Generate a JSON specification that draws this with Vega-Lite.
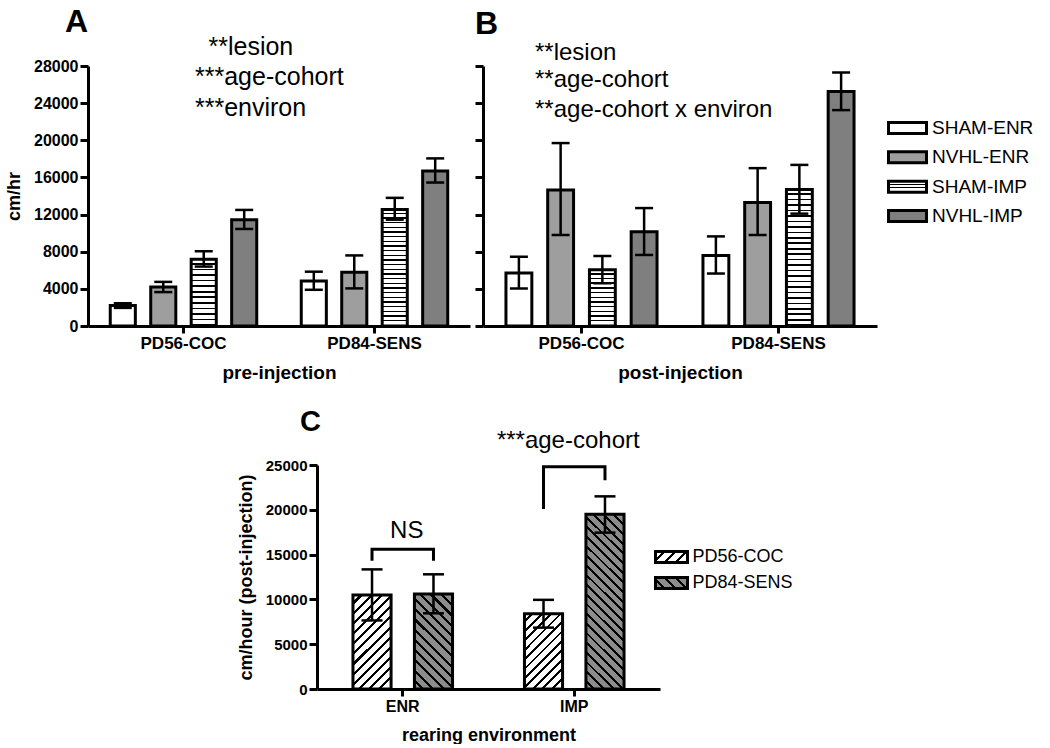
{
"$schema": "https://vega.github.io/schema/vega-lite/v6.json",
"padding": {"left": 5, "top": 5, "right": 0, "bottom": 0},
"config": {
  "view": {"stroke": null},
  "font": "Liberation Sans",
  "axis": {"domainColor": "black", "domainWidth": 3, "tickColor": "black", "tickWidth": 3, "labelColor": "black", "titleColor": "black", "labelFontWeight": "bold", "titleFontWeight": "bold", "grid": false, "labelFont": "Liberation Sans", "titleFont": "Liberation Sans", "labelOverlap": false},
  "axisY": {"tickSize": 8, "labelPadding": 2, "titlePadding": 10},
  "axisX": {"tickSize": 7, "labelPadding": 2, "titlePadding": 12, "labelAngle": 0, "bandPosition": 0.5},
  "title": {"font": "Liberation Sans", "color": "black"},
  "text": {"font": "Liberation Sans", "color": "black"}
},
"spacing": 25,
"center": true,
"resolve": {"scale": {"xOffset": "independent", "x": "independent", "y": "independent"}},
"vconcat": [
{"bounds": "flush", "spacing": 13, "resolve": {"scale": {"xOffset": "independent", "x": "independent", "y": "independent"}}, "hconcat": [
 {
  "width": 382, "height": 260,
  "title": {"text": "A", "anchor": "start", "frame": "group", "dx": -23, "fontSize": 32, "fontWeight": "bold", "baseline": "alphabetic", "offset": -29},
  "data": {"values": [
   {"cohort": "PD56-COC", "group": "SHAM-ENR", "mean": 2200, "lo": 1950, "hi": 2450},
   {"cohort": "PD56-COC", "group": "NVHL-ENR", "mean": 4200, "lo": 3650, "hi": 4750},
   {"cohort": "PD56-COC", "group": "SHAM-IMP", "mean": 7200, "lo": 6400, "hi": 8050},
   {"cohort": "PD56-COC", "group": "NVHL-IMP", "mean": 11450, "lo": 10450, "hi": 12500},
   {"cohort": "PD84-SENS", "group": "SHAM-ENR", "mean": 4850, "lo": 3900, "hi": 5850},
   {"cohort": "PD84-SENS", "group": "NVHL-ENR", "mean": 5800, "lo": 4050, "hi": 7600},
   {"cohort": "PD84-SENS", "group": "SHAM-IMP", "mean": 12550, "lo": 11450, "hi": 13800},
   {"cohort": "PD84-SENS", "group": "NVHL-IMP", "mean": 16700, "lo": 15450, "hi": 18050}
  ]},
  "encoding": {
   "x": {"field": "cohort", "type": "nominal", "scale": {"type": "band", "domain": ["PD56-COC", "PD84-SENS"], "paddingInner": 0, "paddingOuter": 0}, "title": "pre-injection", "axis": {"labelFontSize": 17, "titleFontSize": 19}}
  },
  "layer": [
   {"mark": {"type": "bar", "stroke": "black", "strokeWidth": 3, "opacity": 1},
    "encoding": {
     "xOffset": {"field": "group", "type": "nominal", "scale": {"type": "band", "domain": ["SHAM-ENR", "NVHL-ENR", "SHAM-IMP", "NVHL-IMP"], "range": [0, 191], "paddingInner": 0.38, "paddingOuter": 0.55}},
     "y": {"field": "mean", "type": "quantitative", "scale": {"domain": [0, 28000], "nice": false}, "title": "cm/hr", "axis": {"values": [0, 4000, 8000, 12000, 16000, 20000, 24000, 28000], "format": "d", "labelFontSize": 16, "titleFontSize": 18}},
     "fill": {"condition": [
       {"test": "datum.group === 'SHAM-ENR'", "value": "#ffffff"},
       {"test": "datum.group === 'NVHL-ENR'", "value": "#9e9e9e"},
       {"test": "datum.group === 'NVHL-IMP'", "value": "#7f7f7f"},
       {"test": "datum.mean < 9000", "value": {"gradient": "linear", "x1": 0, "y1": 0, "x2": 0, "y2": 1, "stops": [{"offset":0,"color":"#fff"},{"offset":0.0583,"color":"#fff"},{"offset":0.0583,"color":"#000"},{"offset":0.0833,"color":"#000"},{"offset":0.0833,"color":"#fff"},{"offset":0.1417,"color":"#fff"},{"offset":0.1417,"color":"#000"},{"offset":0.1667,"color":"#000"},{"offset":0.1667,"color":"#fff"},{"offset":0.225,"color":"#fff"},{"offset":0.225,"color":"#000"},{"offset":0.25,"color":"#000"},{"offset":0.25,"color":"#fff"},{"offset":0.3083,"color":"#fff"},{"offset":0.3083,"color":"#000"},{"offset":0.3333,"color":"#000"},{"offset":0.3333,"color":"#fff"},{"offset":0.3917,"color":"#fff"},{"offset":0.3917,"color":"#000"},{"offset":0.4167,"color":"#000"},{"offset":0.4167,"color":"#fff"},{"offset":0.475,"color":"#fff"},{"offset":0.475,"color":"#000"},{"offset":0.5,"color":"#000"},{"offset":0.5,"color":"#fff"},{"offset":0.5583,"color":"#fff"},{"offset":0.5583,"color":"#000"},{"offset":0.5833,"color":"#000"},{"offset":0.5833,"color":"#fff"},{"offset":0.6417,"color":"#fff"},{"offset":0.6417,"color":"#000"},{"offset":0.6667,"color":"#000"},{"offset":0.6667,"color":"#fff"},{"offset":0.725,"color":"#fff"},{"offset":0.725,"color":"#000"},{"offset":0.75,"color":"#000"},{"offset":0.75,"color":"#fff"},{"offset":0.8083,"color":"#fff"},{"offset":0.8083,"color":"#000"},{"offset":0.8333,"color":"#000"},{"offset":0.8333,"color":"#fff"},{"offset":0.8917,"color":"#fff"},{"offset":0.8917,"color":"#000"},{"offset":0.9167,"color":"#000"},{"offset":0.9167,"color":"#fff"},{"offset":0.975,"color":"#fff"},{"offset":0.975,"color":"#000"},{"offset":1,"color":"#000"}]}}
      ],
      "value": {"gradient": "linear", "x1": 0, "y1": 0, "x2": 0, "y2": 1, "stops": [{"offset":0,"color":"#fff"},{"offset":0.028,"color":"#fff"},{"offset":0.028,"color":"#000"},{"offset":0.04,"color":"#000"},{"offset":0.04,"color":"#fff"},{"offset":0.068,"color":"#fff"},{"offset":0.068,"color":"#000"},{"offset":0.08,"color":"#000"},{"offset":0.08,"color":"#fff"},{"offset":0.108,"color":"#fff"},{"offset":0.108,"color":"#000"},{"offset":0.12,"color":"#000"},{"offset":0.12,"color":"#fff"},{"offset":0.148,"color":"#fff"},{"offset":0.148,"color":"#000"},{"offset":0.16,"color":"#000"},{"offset":0.16,"color":"#fff"},{"offset":0.188,"color":"#fff"},{"offset":0.188,"color":"#000"},{"offset":0.2,"color":"#000"},{"offset":0.2,"color":"#fff"},{"offset":0.228,"color":"#fff"},{"offset":0.228,"color":"#000"},{"offset":0.24,"color":"#000"},{"offset":0.24,"color":"#fff"},{"offset":0.268,"color":"#fff"},{"offset":0.268,"color":"#000"},{"offset":0.28,"color":"#000"},{"offset":0.28,"color":"#fff"},{"offset":0.308,"color":"#fff"},{"offset":0.308,"color":"#000"},{"offset":0.32,"color":"#000"},{"offset":0.32,"color":"#fff"},{"offset":0.348,"color":"#fff"},{"offset":0.348,"color":"#000"},{"offset":0.36,"color":"#000"},{"offset":0.36,"color":"#fff"},{"offset":0.388,"color":"#fff"},{"offset":0.388,"color":"#000"},{"offset":0.4,"color":"#000"},{"offset":0.4,"color":"#fff"},{"offset":0.428,"color":"#fff"},{"offset":0.428,"color":"#000"},{"offset":0.44,"color":"#000"},{"offset":0.44,"color":"#fff"},{"offset":0.468,"color":"#fff"},{"offset":0.468,"color":"#000"},{"offset":0.48,"color":"#000"},{"offset":0.48,"color":"#fff"},{"offset":0.508,"color":"#fff"},{"offset":0.508,"color":"#000"},{"offset":0.52,"color":"#000"},{"offset":0.52,"color":"#fff"},{"offset":0.548,"color":"#fff"},{"offset":0.548,"color":"#000"},{"offset":0.56,"color":"#000"},{"offset":0.56,"color":"#fff"},{"offset":0.588,"color":"#fff"},{"offset":0.588,"color":"#000"},{"offset":0.6,"color":"#000"},{"offset":0.6,"color":"#fff"},{"offset":0.628,"color":"#fff"},{"offset":0.628,"color":"#000"},{"offset":0.64,"color":"#000"},{"offset":0.64,"color":"#fff"},{"offset":0.668,"color":"#fff"},{"offset":0.668,"color":"#000"},{"offset":0.68,"color":"#000"},{"offset":0.68,"color":"#fff"},{"offset":0.708,"color":"#fff"},{"offset":0.708,"color":"#000"},{"offset":0.72,"color":"#000"},{"offset":0.72,"color":"#fff"},{"offset":0.748,"color":"#fff"},{"offset":0.748,"color":"#000"},{"offset":0.76,"color":"#000"},{"offset":0.76,"color":"#fff"},{"offset":0.788,"color":"#fff"},{"offset":0.788,"color":"#000"},{"offset":0.8,"color":"#000"},{"offset":0.8,"color":"#fff"},{"offset":0.828,"color":"#fff"},{"offset":0.828,"color":"#000"},{"offset":0.84,"color":"#000"},{"offset":0.84,"color":"#fff"},{"offset":0.868,"color":"#fff"},{"offset":0.868,"color":"#000"},{"offset":0.88,"color":"#000"},{"offset":0.88,"color":"#fff"},{"offset":0.908,"color":"#fff"},{"offset":0.908,"color":"#000"},{"offset":0.92,"color":"#000"},{"offset":0.92,"color":"#fff"},{"offset":0.948,"color":"#fff"},{"offset":0.948,"color":"#000"},{"offset":0.96,"color":"#000"},{"offset":0.96,"color":"#fff"},{"offset":0.988,"color":"#fff"},{"offset":0.988,"color":"#000"},{"offset":1,"color":"#000"}]}
     }
    }
   },
   {"mark": {"type": "rule", "color": "black", "strokeWidth": 2.5},
    "encoding": {
     "xOffset": {"field": "group", "type": "nominal", "scale": {"type": "band", "domain": ["SHAM-ENR", "NVHL-ENR", "SHAM-IMP", "NVHL-IMP"], "range": [0, 191], "paddingInner": 0.38, "paddingOuter": 0.55}},
     "y": {"field": "lo", "type": "quantitative", "title": "cm/hr", "axis": {"values": [0, 4000, 8000, 12000, 16000, 20000, 24000, 28000], "format": "d", "labelFontSize": 16, "titleFontSize": 18}},
     "y2": {"field": "hi"}
    }
   },
   {"mark": {"type": "tick", "color": "black", "thickness": 2.5, "size": 18, "opacity": 1},
    "encoding": {
     "xOffset": {"field": "group", "type": "nominal", "scale": {"type": "band", "domain": ["SHAM-ENR", "NVHL-ENR", "SHAM-IMP", "NVHL-IMP"], "range": [0, 191], "paddingInner": 0.38, "paddingOuter": 0.55}},
     "y": {"field": "hi", "type": "quantitative", "title": "cm/hr", "axis": {"values": [0, 4000, 8000, 12000, 16000, 20000, 24000, 28000], "format": "d", "labelFontSize": 16, "titleFontSize": 18}}
    }
   },
   {"mark": {"type": "tick", "color": "black", "thickness": 2.5, "size": 18, "opacity": 1},
    "encoding": {
     "xOffset": {"field": "group", "type": "nominal", "scale": {"type": "band", "domain": ["SHAM-ENR", "NVHL-ENR", "SHAM-IMP", "NVHL-IMP"], "range": [0, 191], "paddingInner": 0.38, "paddingOuter": 0.55}},
     "y": {"field": "lo", "type": "quantitative", "title": "cm/hr", "axis": {"values": [0, 4000, 8000, 12000, 16000, 20000, 24000, 28000], "format": "d", "labelFontSize": 16, "titleFontSize": 18}}
    }
   },
   {"data": {"values": [
     {"cohort": "PD56-COC", "t": "**lesion", "v": 29200}
    ]},
    "mark": {"type": "text", "align": "left", "baseline": "alphabetic", "dx": 25, "fontSize": 25, "color": "black"},
    "encoding": {
     "y": {"field": "v", "type": "quantitative", "title": "cm/hr", "axis": {"values": [0, 4000, 8000, 12000, 16000, 20000, 24000, 28000], "format": "d", "labelFontSize": 16, "titleFontSize": 18}},
     "text": {"field": "t"}
    }
   },
   {"data": {"values": [
     {"cohort": "PD56-COC", "t": "***age-cohort", "v": 26000},
     {"cohort": "PD56-COC", "t": "***environ", "v": 22600}
    ]},
    "mark": {"type": "text", "align": "left", "baseline": "alphabetic", "dx": 11.5, "fontSize": 25, "color": "black"},
    "encoding": {
     "y": {"field": "v", "type": "quantitative", "title": "cm/hr", "axis": {"values": [0, 4000, 8000, 12000, 16000, 20000, 24000, 28000], "format": "d", "labelFontSize": 16, "titleFontSize": 18}},
     "text": {"field": "t"}
    }
   }
  ]
 },
 {
  "width": 394, "height": 260,
  "title": {"text": "B", "anchor": "start", "frame": "group", "dx": -8, "fontSize": 32, "fontWeight": "bold", "baseline": "alphabetic", "offset": -25},
  "data": {"values": [
   {"cohort": "PD56-COC", "group": "SHAM-ENR", "mean": 5700, "lo": 4050, "hi": 7450},
   {"cohort": "PD56-COC", "group": "NVHL-ENR", "mean": 14650, "lo": 9800, "hi": 19700},
   {"cohort": "PD56-COC", "group": "SHAM-IMP", "mean": 6050, "lo": 4600, "hi": 7550},
   {"cohort": "PD56-COC", "group": "NVHL-IMP", "mean": 10150, "lo": 7650, "hi": 12700},
   {"cohort": "PD84-SENS", "group": "SHAM-ENR", "mean": 7600, "lo": 5650, "hi": 9650},
   {"cohort": "PD84-SENS", "group": "NVHL-ENR", "mean": 13300, "lo": 9800, "hi": 17000},
   {"cohort": "PD84-SENS", "group": "SHAM-IMP", "mean": 14700, "lo": 12100, "hi": 17350},
   {"cohort": "PD84-SENS", "group": "NVHL-IMP", "mean": 25250, "lo": 23250, "hi": 27300}
  ]},
  "encoding": {
   "x": {"field": "cohort", "type": "nominal", "scale": {"type": "band", "domain": ["PD56-COC", "PD84-SENS"], "paddingInner": 0, "paddingOuter": 0}, "title": "post-injection", "axis": {"labelFontSize": 17, "titleFontSize": 19}}
  },
  "layer": [
   {"mark": {"type": "bar", "stroke": "black", "strokeWidth": 3, "opacity": 1},
    "encoding": {
     "xOffset": {"field": "group", "type": "nominal", "scale": {"type": "band", "domain": ["SHAM-ENR", "NVHL-ENR", "SHAM-IMP", "NVHL-IMP"], "range": [0, 197], "paddingInner": 0.38, "paddingOuter": 0.55}},
     "y": {"field": "mean", "type": "quantitative", "scale": {"domain": [0, 28000], "nice": false}, "title": null, "axis": {"values": [0, 4000, 8000, 12000, 16000, 20000, 24000, 28000], "labels": false, "title": null}},
     "fill": {"condition": [
       {"test": "datum.group === 'SHAM-ENR'", "value": "#ffffff"},
       {"test": "datum.group === 'NVHL-ENR'", "value": "#9e9e9e"},
       {"test": "datum.group === 'NVHL-IMP'", "value": "#7f7f7f"},
       {"test": "datum.mean < 9000", "value": {"gradient": "linear", "x1": 0, "y1": 0, "x2": 0, "y2": 1, "stops": [{"offset":0,"color":"#fff"},{"offset":0.0583,"color":"#fff"},{"offset":0.0583,"color":"#000"},{"offset":0.0833,"color":"#000"},{"offset":0.0833,"color":"#fff"},{"offset":0.1417,"color":"#fff"},{"offset":0.1417,"color":"#000"},{"offset":0.1667,"color":"#000"},{"offset":0.1667,"color":"#fff"},{"offset":0.225,"color":"#fff"},{"offset":0.225,"color":"#000"},{"offset":0.25,"color":"#000"},{"offset":0.25,"color":"#fff"},{"offset":0.3083,"color":"#fff"},{"offset":0.3083,"color":"#000"},{"offset":0.3333,"color":"#000"},{"offset":0.3333,"color":"#fff"},{"offset":0.3917,"color":"#fff"},{"offset":0.3917,"color":"#000"},{"offset":0.4167,"color":"#000"},{"offset":0.4167,"color":"#fff"},{"offset":0.475,"color":"#fff"},{"offset":0.475,"color":"#000"},{"offset":0.5,"color":"#000"},{"offset":0.5,"color":"#fff"},{"offset":0.5583,"color":"#fff"},{"offset":0.5583,"color":"#000"},{"offset":0.5833,"color":"#000"},{"offset":0.5833,"color":"#fff"},{"offset":0.6417,"color":"#fff"},{"offset":0.6417,"color":"#000"},{"offset":0.6667,"color":"#000"},{"offset":0.6667,"color":"#fff"},{"offset":0.725,"color":"#fff"},{"offset":0.725,"color":"#000"},{"offset":0.75,"color":"#000"},{"offset":0.75,"color":"#fff"},{"offset":0.8083,"color":"#fff"},{"offset":0.8083,"color":"#000"},{"offset":0.8333,"color":"#000"},{"offset":0.8333,"color":"#fff"},{"offset":0.8917,"color":"#fff"},{"offset":0.8917,"color":"#000"},{"offset":0.9167,"color":"#000"},{"offset":0.9167,"color":"#fff"},{"offset":0.975,"color":"#fff"},{"offset":0.975,"color":"#000"},{"offset":1,"color":"#000"}]}}
      ],
      "value": {"gradient": "linear", "x1": 0, "y1": 0, "x2": 0, "y2": 1, "stops": [{"offset":0,"color":"#fff"},{"offset":0.028,"color":"#fff"},{"offset":0.028,"color":"#000"},{"offset":0.04,"color":"#000"},{"offset":0.04,"color":"#fff"},{"offset":0.068,"color":"#fff"},{"offset":0.068,"color":"#000"},{"offset":0.08,"color":"#000"},{"offset":0.08,"color":"#fff"},{"offset":0.108,"color":"#fff"},{"offset":0.108,"color":"#000"},{"offset":0.12,"color":"#000"},{"offset":0.12,"color":"#fff"},{"offset":0.148,"color":"#fff"},{"offset":0.148,"color":"#000"},{"offset":0.16,"color":"#000"},{"offset":0.16,"color":"#fff"},{"offset":0.188,"color":"#fff"},{"offset":0.188,"color":"#000"},{"offset":0.2,"color":"#000"},{"offset":0.2,"color":"#fff"},{"offset":0.228,"color":"#fff"},{"offset":0.228,"color":"#000"},{"offset":0.24,"color":"#000"},{"offset":0.24,"color":"#fff"},{"offset":0.268,"color":"#fff"},{"offset":0.268,"color":"#000"},{"offset":0.28,"color":"#000"},{"offset":0.28,"color":"#fff"},{"offset":0.308,"color":"#fff"},{"offset":0.308,"color":"#000"},{"offset":0.32,"color":"#000"},{"offset":0.32,"color":"#fff"},{"offset":0.348,"color":"#fff"},{"offset":0.348,"color":"#000"},{"offset":0.36,"color":"#000"},{"offset":0.36,"color":"#fff"},{"offset":0.388,"color":"#fff"},{"offset":0.388,"color":"#000"},{"offset":0.4,"color":"#000"},{"offset":0.4,"color":"#fff"},{"offset":0.428,"color":"#fff"},{"offset":0.428,"color":"#000"},{"offset":0.44,"color":"#000"},{"offset":0.44,"color":"#fff"},{"offset":0.468,"color":"#fff"},{"offset":0.468,"color":"#000"},{"offset":0.48,"color":"#000"},{"offset":0.48,"color":"#fff"},{"offset":0.508,"color":"#fff"},{"offset":0.508,"color":"#000"},{"offset":0.52,"color":"#000"},{"offset":0.52,"color":"#fff"},{"offset":0.548,"color":"#fff"},{"offset":0.548,"color":"#000"},{"offset":0.56,"color":"#000"},{"offset":0.56,"color":"#fff"},{"offset":0.588,"color":"#fff"},{"offset":0.588,"color":"#000"},{"offset":0.6,"color":"#000"},{"offset":0.6,"color":"#fff"},{"offset":0.628,"color":"#fff"},{"offset":0.628,"color":"#000"},{"offset":0.64,"color":"#000"},{"offset":0.64,"color":"#fff"},{"offset":0.668,"color":"#fff"},{"offset":0.668,"color":"#000"},{"offset":0.68,"color":"#000"},{"offset":0.68,"color":"#fff"},{"offset":0.708,"color":"#fff"},{"offset":0.708,"color":"#000"},{"offset":0.72,"color":"#000"},{"offset":0.72,"color":"#fff"},{"offset":0.748,"color":"#fff"},{"offset":0.748,"color":"#000"},{"offset":0.76,"color":"#000"},{"offset":0.76,"color":"#fff"},{"offset":0.788,"color":"#fff"},{"offset":0.788,"color":"#000"},{"offset":0.8,"color":"#000"},{"offset":0.8,"color":"#fff"},{"offset":0.828,"color":"#fff"},{"offset":0.828,"color":"#000"},{"offset":0.84,"color":"#000"},{"offset":0.84,"color":"#fff"},{"offset":0.868,"color":"#fff"},{"offset":0.868,"color":"#000"},{"offset":0.88,"color":"#000"},{"offset":0.88,"color":"#fff"},{"offset":0.908,"color":"#fff"},{"offset":0.908,"color":"#000"},{"offset":0.92,"color":"#000"},{"offset":0.92,"color":"#fff"},{"offset":0.948,"color":"#fff"},{"offset":0.948,"color":"#000"},{"offset":0.96,"color":"#000"},{"offset":0.96,"color":"#fff"},{"offset":0.988,"color":"#fff"},{"offset":0.988,"color":"#000"},{"offset":1,"color":"#000"}]}
     }
    }
   },
   {"mark": {"type": "rule", "color": "black", "strokeWidth": 2.5},
    "encoding": {
     "xOffset": {"field": "group", "type": "nominal", "scale": {"type": "band", "domain": ["SHAM-ENR", "NVHL-ENR", "SHAM-IMP", "NVHL-IMP"], "range": [0, 197], "paddingInner": 0.38, "paddingOuter": 0.55}},
     "y": {"field": "lo", "type": "quantitative", "title": null, "axis": {"values": [0, 4000, 8000, 12000, 16000, 20000, 24000, 28000], "labels": false, "title": null}},
     "y2": {"field": "hi"}
    }
   },
   {"mark": {"type": "tick", "color": "black", "thickness": 2.5, "size": 18, "opacity": 1},
    "encoding": {
     "xOffset": {"field": "group", "type": "nominal", "scale": {"type": "band", "domain": ["SHAM-ENR", "NVHL-ENR", "SHAM-IMP", "NVHL-IMP"], "range": [0, 197], "paddingInner": 0.38, "paddingOuter": 0.55}},
     "y": {"field": "hi", "type": "quantitative", "title": null, "axis": {"values": [0, 4000, 8000, 12000, 16000, 20000, 24000, 28000], "labels": false, "title": null}}
    }
   },
   {"mark": {"type": "tick", "color": "black", "thickness": 2.5, "size": 18, "opacity": 1},
    "encoding": {
     "xOffset": {"field": "group", "type": "nominal", "scale": {"type": "band", "domain": ["SHAM-ENR", "NVHL-ENR", "SHAM-IMP", "NVHL-IMP"], "range": [0, 197], "paddingInner": 0.38, "paddingOuter": 0.55}},
     "y": {"field": "lo", "type": "quantitative", "title": null, "axis": {"values": [0, 4000, 8000, 12000, 16000, 20000, 24000, 28000], "labels": false, "title": null}}
    }
   },
   {"data": {"values": [
     {"cohort": "PD56-COC", "t": "**lesion", "v": 28700},
     {"cohort": "PD56-COC", "t": "**age-cohort", "v": 25700},
     {"cohort": "PD56-COC", "t": "**age-cohort x environ", "v": 22500}
    ]},
    "mark": {"type": "text", "align": "left", "baseline": "alphabetic", "dx": -46.5, "fontSize": 24, "color": "black"},
    "encoding": {
     "y": {"field": "v", "type": "quantitative", "title": null, "axis": {"values": [0, 4000, 8000, 12000, 16000, 20000, 24000, 28000], "labels": false, "title": null}},
     "text": {"field": "t"}
    }
   }
  ]
 },
 {
  "width": 150, "height": 260,
  "data": {"values": [{"g": "SHAM-ENR"}, {"g": "NVHL-ENR"}, {"g": "SHAM-IMP"}, {"g": "NVHL-IMP"}]},
  "encoding": {"y": {"field": "g", "type": "nominal", "scale": {"type": "band", "domain": ["f1", "SHAM-ENR", "NVHL-ENR", "SHAM-IMP", "NVHL-IMP", "f2", "f3", "f4"], "paddingInner": 0.625, "paddingOuter": 0.744, "align": 0.622}, "axis": null}},
  "layer": [
   {"mark": {"type": "rect", "stroke": "black", "strokeWidth": 3, "opacity": 1},
    "encoding": {
     "x": {"datum": -1.5, "type": "quantitative", "scale": {"domain": [0, 150], "nice": false, "zero": false}, "axis": null},
     "x2": {"datum": 36.5},
     "fill": {"condition": [
       {"test": "datum.g === 'SHAM-ENR'", "value": "#ffffff"},
       {"test": "datum.g === 'NVHL-ENR'", "value": "#9e9e9e"},
       {"test": "datum.g === 'NVHL-IMP'", "value": "#7f7f7f"}
      ],
      "value": {"gradient": "linear", "x1": 0, "y1": 0, "x2": 0, "y2": 1, "stops": [{"offset":0,"color":"#fff"},{"offset":0.2333,"color":"#fff"},{"offset":0.2333,"color":"#000"},{"offset":0.3333,"color":"#000"},{"offset":0.3333,"color":"#fff"},{"offset":0.5667,"color":"#fff"},{"offset":0.5667,"color":"#000"},{"offset":0.6667,"color":"#000"},{"offset":0.6667,"color":"#fff"},{"offset":1,"color":"#fff"}]}
     }
    }
   },
   {"mark": {"type": "text", "align": "left", "baseline": "middle", "fontSize": 19, "color": "black"},
    "encoding": {
     "x": {"datum": 42, "type": "quantitative"},
     "text": {"field": "g"}
    }
   }
  ]
 }
]},
{"bounds": "flush", "spacing": 0, "resolve": {"scale": {"xOffset": "independent", "x": "independent", "y": "independent"}}, "hconcat": [
 {
  "width": 343, "height": 224,
  "title": {"text": "C", "anchor": "start", "frame": "group", "dx": -17, "fontSize": 29, "fontWeight": "bold", "baseline": "alphabetic", "offset": -31},
  "data": {"values": [
   {"env": "ENR", "cohort": "PD56-COC", "mean": 10500, "lo": 7650, "hi": 13350},
   {"env": "ENR", "cohort": "PD84-SENS", "mean": 10600, "lo": 8450, "hi": 12800},
   {"env": "IMP", "cohort": "PD56-COC", "mean": 8400, "lo": 6850, "hi": 9950},
   {"env": "IMP", "cohort": "PD84-SENS", "mean": 19500, "lo": 17450, "hi": 21500}
  ]},
  "encoding": {
   "x": {"field": "env", "type": "nominal", "scale": {"type": "band", "domain": ["ENR", "IMP"], "paddingInner": 0, "paddingOuter": 0}, "title": "rearing environment", "axis": {"labelFontSize": 16, "titleFontSize": 18}}
  },
  "layer": [
   {"mark": {"type": "bar", "stroke": "black", "strokeWidth": 3, "opacity": 1},
    "encoding": {
     "xOffset": {"field": "cohort", "type": "nominal", "scale": {"type": "band", "domain": ["PD56-COC", "PD84-SENS"], "range": [0, 171.5], "paddingInner": 0.38, "paddingOuter": 0.585}},
     "y": {"field": "mean", "type": "quantitative", "scale": {"domain": [0, 25000], "nice": false}, "title": "cm/hour (post-injection)", "axis": {"values": [0, 5000, 10000, 15000, 20000, 25000], "format": "d", "labelFontSize": 15, "titleFontSize": 18}},
     "fill": {"condition": [
       {"test": "datum.cohort === 'PD56-COC' && datum.env === 'ENR'", "value": {"gradient": "linear", "x1": 0, "y1": 0, "x2": 0.488, "y2": 1.207, "stops": [{"offset":0,"color":"#fff"},{"offset":0.0538,"color":"#fff"},{"offset":0.0538,"color":"#000"},{"offset":0.0769,"color":"#000"},{"offset":0.0769,"color":"#fff"},{"offset":0.1308,"color":"#fff"},{"offset":0.1308,"color":"#000"},{"offset":0.1538,"color":"#000"},{"offset":0.1538,"color":"#fff"},{"offset":0.2077,"color":"#fff"},{"offset":0.2077,"color":"#000"},{"offset":0.2308,"color":"#000"},{"offset":0.2308,"color":"#fff"},{"offset":0.2846,"color":"#fff"},{"offset":0.2846,"color":"#000"},{"offset":0.3077,"color":"#000"},{"offset":0.3077,"color":"#fff"},{"offset":0.3615,"color":"#fff"},{"offset":0.3615,"color":"#000"},{"offset":0.3846,"color":"#000"},{"offset":0.3846,"color":"#fff"},{"offset":0.4385,"color":"#fff"},{"offset":0.4385,"color":"#000"},{"offset":0.4615,"color":"#000"},{"offset":0.4615,"color":"#fff"},{"offset":0.5154,"color":"#fff"},{"offset":0.5154,"color":"#000"},{"offset":0.5385,"color":"#000"},{"offset":0.5385,"color":"#fff"},{"offset":0.5923,"color":"#fff"},{"offset":0.5923,"color":"#000"},{"offset":0.6154,"color":"#000"},{"offset":0.6154,"color":"#fff"},{"offset":0.6692,"color":"#fff"},{"offset":0.6692,"color":"#000"},{"offset":0.6923,"color":"#000"},{"offset":0.6923,"color":"#fff"},{"offset":0.7462,"color":"#fff"},{"offset":0.7462,"color":"#000"},{"offset":0.7692,"color":"#000"},{"offset":0.7692,"color":"#fff"},{"offset":0.8231,"color":"#fff"},{"offset":0.8231,"color":"#000"},{"offset":0.8462,"color":"#000"},{"offset":0.8462,"color":"#fff"},{"offset":0.9,"color":"#fff"},{"offset":0.9,"color":"#000"},{"offset":0.9231,"color":"#000"},{"offset":0.9231,"color":"#fff"},{"offset":0.9769,"color":"#fff"},{"offset":0.9769,"color":"#000"},{"offset":1,"color":"#000"}]}},
       {"test": "datum.cohort === 'PD56-COC'", "value": {"gradient": "linear", "x1": 0, "y1": 0, "x2": 0.608, "y2": 1.199, "stops": [{"offset":0,"color":"#fff"},{"offset":0.0583,"color":"#fff"},{"offset":0.0583,"color":"#000"},{"offset":0.0833,"color":"#000"},{"offset":0.0833,"color":"#fff"},{"offset":0.1417,"color":"#fff"},{"offset":0.1417,"color":"#000"},{"offset":0.1667,"color":"#000"},{"offset":0.1667,"color":"#fff"},{"offset":0.225,"color":"#fff"},{"offset":0.225,"color":"#000"},{"offset":0.25,"color":"#000"},{"offset":0.25,"color":"#fff"},{"offset":0.3083,"color":"#fff"},{"offset":0.3083,"color":"#000"},{"offset":0.3333,"color":"#000"},{"offset":0.3333,"color":"#fff"},{"offset":0.3917,"color":"#fff"},{"offset":0.3917,"color":"#000"},{"offset":0.4167,"color":"#000"},{"offset":0.4167,"color":"#fff"},{"offset":0.475,"color":"#fff"},{"offset":0.475,"color":"#000"},{"offset":0.5,"color":"#000"},{"offset":0.5,"color":"#fff"},{"offset":0.5583,"color":"#fff"},{"offset":0.5583,"color":"#000"},{"offset":0.5833,"color":"#000"},{"offset":0.5833,"color":"#fff"},{"offset":0.6417,"color":"#fff"},{"offset":0.6417,"color":"#000"},{"offset":0.6667,"color":"#000"},{"offset":0.6667,"color":"#fff"},{"offset":0.725,"color":"#fff"},{"offset":0.725,"color":"#000"},{"offset":0.75,"color":"#000"},{"offset":0.75,"color":"#fff"},{"offset":0.8083,"color":"#fff"},{"offset":0.8083,"color":"#000"},{"offset":0.8333,"color":"#000"},{"offset":0.8333,"color":"#fff"},{"offset":0.8917,"color":"#fff"},{"offset":0.8917,"color":"#000"},{"offset":0.9167,"color":"#000"},{"offset":0.9167,"color":"#fff"},{"offset":0.975,"color":"#fff"},{"offset":0.975,"color":"#000"},{"offset":1,"color":"#000"}]}},
       {"test": "datum.env === 'ENR'", "value": {"gradient": "linear", "x1": 0, "y1": 1, "x2": 0.483, "y2": -0.207, "stops": [{"offset":0,"color":"#8c8c8c"},{"offset":0.0538,"color":"#8c8c8c"},{"offset":0.0538,"color":"#000"},{"offset":0.0769,"color":"#000"},{"offset":0.0769,"color":"#8c8c8c"},{"offset":0.1308,"color":"#8c8c8c"},{"offset":0.1308,"color":"#000"},{"offset":0.1538,"color":"#000"},{"offset":0.1538,"color":"#8c8c8c"},{"offset":0.2077,"color":"#8c8c8c"},{"offset":0.2077,"color":"#000"},{"offset":0.2308,"color":"#000"},{"offset":0.2308,"color":"#8c8c8c"},{"offset":0.2846,"color":"#8c8c8c"},{"offset":0.2846,"color":"#000"},{"offset":0.3077,"color":"#000"},{"offset":0.3077,"color":"#8c8c8c"},{"offset":0.3615,"color":"#8c8c8c"},{"offset":0.3615,"color":"#000"},{"offset":0.3846,"color":"#000"},{"offset":0.3846,"color":"#8c8c8c"},{"offset":0.4385,"color":"#8c8c8c"},{"offset":0.4385,"color":"#000"},{"offset":0.4615,"color":"#000"},{"offset":0.4615,"color":"#8c8c8c"},{"offset":0.5154,"color":"#8c8c8c"},{"offset":0.5154,"color":"#000"},{"offset":0.5385,"color":"#000"},{"offset":0.5385,"color":"#8c8c8c"},{"offset":0.5923,"color":"#8c8c8c"},{"offset":0.5923,"color":"#000"},{"offset":0.6154,"color":"#000"},{"offset":0.6154,"color":"#8c8c8c"},{"offset":0.6692,"color":"#8c8c8c"},{"offset":0.6692,"color":"#000"},{"offset":0.6923,"color":"#000"},{"offset":0.6923,"color":"#8c8c8c"},{"offset":0.7462,"color":"#8c8c8c"},{"offset":0.7462,"color":"#000"},{"offset":0.7692,"color":"#000"},{"offset":0.7692,"color":"#8c8c8c"},{"offset":0.8231,"color":"#8c8c8c"},{"offset":0.8231,"color":"#000"},{"offset":0.8462,"color":"#000"},{"offset":0.8462,"color":"#8c8c8c"},{"offset":0.9,"color":"#8c8c8c"},{"offset":0.9,"color":"#000"},{"offset":0.9231,"color":"#000"},{"offset":0.9231,"color":"#8c8c8c"},{"offset":0.9769,"color":"#8c8c8c"},{"offset":0.9769,"color":"#000"},{"offset":1,"color":"#000"}]}}
      ],
      "value": {"gradient": "linear", "x1": 0, "y1": 1, "x2": 0.252, "y2": -0.162, "stops": [{"offset":0,"color":"#8c8c8c"},{"offset":0.0318,"color":"#8c8c8c"},{"offset":0.0318,"color":"#000"},{"offset":0.0455,"color":"#000"},{"offset":0.0455,"color":"#8c8c8c"},{"offset":0.0773,"color":"#8c8c8c"},{"offset":0.0773,"color":"#000"},{"offset":0.0909,"color":"#000"},{"offset":0.0909,"color":"#8c8c8c"},{"offset":0.1227,"color":"#8c8c8c"},{"offset":0.1227,"color":"#000"},{"offset":0.1364,"color":"#000"},{"offset":0.1364,"color":"#8c8c8c"},{"offset":0.1682,"color":"#8c8c8c"},{"offset":0.1682,"color":"#000"},{"offset":0.1818,"color":"#000"},{"offset":0.1818,"color":"#8c8c8c"},{"offset":0.2136,"color":"#8c8c8c"},{"offset":0.2136,"color":"#000"},{"offset":0.2273,"color":"#000"},{"offset":0.2273,"color":"#8c8c8c"},{"offset":0.2591,"color":"#8c8c8c"},{"offset":0.2591,"color":"#000"},{"offset":0.2727,"color":"#000"},{"offset":0.2727,"color":"#8c8c8c"},{"offset":0.3045,"color":"#8c8c8c"},{"offset":0.3045,"color":"#000"},{"offset":0.3182,"color":"#000"},{"offset":0.3182,"color":"#8c8c8c"},{"offset":0.35,"color":"#8c8c8c"},{"offset":0.35,"color":"#000"},{"offset":0.3636,"color":"#000"},{"offset":0.3636,"color":"#8c8c8c"},{"offset":0.3955,"color":"#8c8c8c"},{"offset":0.3955,"color":"#000"},{"offset":0.4091,"color":"#000"},{"offset":0.4091,"color":"#8c8c8c"},{"offset":0.4409,"color":"#8c8c8c"},{"offset":0.4409,"color":"#000"},{"offset":0.4545,"color":"#000"},{"offset":0.4545,"color":"#8c8c8c"},{"offset":0.4864,"color":"#8c8c8c"},{"offset":0.4864,"color":"#000"},{"offset":0.5,"color":"#000"},{"offset":0.5,"color":"#8c8c8c"},{"offset":0.5318,"color":"#8c8c8c"},{"offset":0.5318,"color":"#000"},{"offset":0.5455,"color":"#000"},{"offset":0.5455,"color":"#8c8c8c"},{"offset":0.5773,"color":"#8c8c8c"},{"offset":0.5773,"color":"#000"},{"offset":0.5909,"color":"#000"},{"offset":0.5909,"color":"#8c8c8c"},{"offset":0.6227,"color":"#8c8c8c"},{"offset":0.6227,"color":"#000"},{"offset":0.6364,"color":"#000"},{"offset":0.6364,"color":"#8c8c8c"},{"offset":0.6682,"color":"#8c8c8c"},{"offset":0.6682,"color":"#000"},{"offset":0.6818,"color":"#000"},{"offset":0.6818,"color":"#8c8c8c"},{"offset":0.7136,"color":"#8c8c8c"},{"offset":0.7136,"color":"#000"},{"offset":0.7273,"color":"#000"},{"offset":0.7273,"color":"#8c8c8c"},{"offset":0.7591,"color":"#8c8c8c"},{"offset":0.7591,"color":"#000"},{"offset":0.7727,"color":"#000"},{"offset":0.7727,"color":"#8c8c8c"},{"offset":0.8045,"color":"#8c8c8c"},{"offset":0.8045,"color":"#000"},{"offset":0.8182,"color":"#000"},{"offset":0.8182,"color":"#8c8c8c"},{"offset":0.85,"color":"#8c8c8c"},{"offset":0.85,"color":"#000"},{"offset":0.8636,"color":"#000"},{"offset":0.8636,"color":"#8c8c8c"},{"offset":0.8955,"color":"#8c8c8c"},{"offset":0.8955,"color":"#000"},{"offset":0.9091,"color":"#000"},{"offset":0.9091,"color":"#8c8c8c"},{"offset":0.9409,"color":"#8c8c8c"},{"offset":0.9409,"color":"#000"},{"offset":0.9545,"color":"#000"},{"offset":0.9545,"color":"#8c8c8c"},{"offset":0.9864,"color":"#8c8c8c"},{"offset":0.9864,"color":"#000"},{"offset":1,"color":"#000"}]}
     }
    }
   },
   {"mark": {"type": "rule", "color": "black", "strokeWidth": 2.5},
    "encoding": {
     "xOffset": {"field": "cohort", "type": "nominal", "scale": {"type": "band", "domain": ["PD56-COC", "PD84-SENS"], "range": [0, 171.5], "paddingInner": 0.38, "paddingOuter": 0.585}},
     "y": {"field": "lo", "type": "quantitative", "title": "cm/hour (post-injection)", "axis": {"values": [0, 5000, 10000, 15000, 20000, 25000], "format": "d", "labelFontSize": 15, "titleFontSize": 18}},
     "y2": {"field": "hi"}
    }
   },
   {"mark": {"type": "tick", "color": "black", "thickness": 2.5, "size": 21, "opacity": 1},
    "encoding": {
     "xOffset": {"field": "cohort", "type": "nominal", "scale": {"type": "band", "domain": ["PD56-COC", "PD84-SENS"], "range": [0, 171.5], "paddingInner": 0.38, "paddingOuter": 0.585}},
     "y": {"field": "hi", "type": "quantitative", "title": "cm/hour (post-injection)", "axis": {"values": [0, 5000, 10000, 15000, 20000, 25000], "format": "d", "labelFontSize": 15, "titleFontSize": 18}}
    }
   },
   {"mark": {"type": "tick", "color": "black", "thickness": 2.5, "size": 21, "opacity": 1},
    "encoding": {
     "xOffset": {"field": "cohort", "type": "nominal", "scale": {"type": "band", "domain": ["PD56-COC", "PD84-SENS"], "range": [0, 171.5], "paddingInner": 0.38, "paddingOuter": 0.585}},
     "y": {"field": "lo", "type": "quantitative", "title": "cm/hour (post-injection)", "axis": {"values": [0, 5000, 10000, 15000, 20000, 25000], "format": "d", "labelFontSize": 15, "titleFontSize": 18}}
    }
   },
   {"data": {"values": [
     {"b": "NS", "env": "ENR", "cohort": "PD56-COC", "v": 14300, "o": 1},
     {"b": "NS", "env": "ENR", "cohort": "PD56-COC", "v": 15600, "o": 2},
     {"b": "NS", "env": "ENR", "cohort": "PD84-SENS", "v": 15600, "o": 3},
     {"b": "NS", "env": "ENR", "cohort": "PD84-SENS", "v": 14300, "o": 4},
     {"b": "age", "env": "IMP", "cohort": "PD56-COC", "v": 20100, "o": 1},
     {"b": "age", "env": "IMP", "cohort": "PD56-COC", "v": 24800, "o": 2},
     {"b": "age", "env": "IMP", "cohort": "PD84-SENS", "v": 24800, "o": 3},
     {"b": "age", "env": "IMP", "cohort": "PD84-SENS", "v": 23300, "o": 4}
    ]},
    "mark": {"type": "line", "color": "black", "strokeWidth": 3, "strokeJoin": "miter", "strokeCap": "butt"},
    "encoding": {
     "xOffset": {"field": "cohort", "type": "nominal", "scale": {"type": "band", "domain": ["PD56-COC", "PD84-SENS"], "range": [0, 171.5], "paddingInner": 0.38, "paddingOuter": 0.585}},
     "y": {"field": "v", "type": "quantitative", "title": "cm/hour (post-injection)", "axis": {"values": [0, 5000, 10000, 15000, 20000, 25000], "format": "d", "labelFontSize": 15, "titleFontSize": 18}},
     "detail": {"field": "b"},
     "order": {"field": "o"}
    }
   },
   {"data": {"values": [{"env": "ENR", "t": "NS", "v": 16850}]},
    "mark": {"type": "text", "align": "center", "baseline": "alphabetic", "dx": 4, "fontSize": 24, "color": "black"},
    "encoding": {
     "y": {"field": "v", "type": "quantitative", "title": "cm/hour (post-injection)", "axis": {"values": [0, 5000, 10000, 15000, 20000, 25000], "format": "d", "labelFontSize": 15, "titleFontSize": 18}},
     "text": {"field": "t"}
    }
   },
   {"data": {"values": [{"env": "IMP", "t": "***age-cohort", "v": 26900}]},
    "mark": {"type": "text", "align": "center", "baseline": "alphabetic", "dx": -6, "fontSize": 24, "color": "black"},
    "encoding": {
     "y": {"field": "v", "type": "quantitative", "title": "cm/hour (post-injection)", "axis": {"values": [0, 5000, 10000, 15000, 20000, 25000], "format": "d", "labelFontSize": 15, "titleFontSize": 18}},
     "text": {"field": "t"}
    }
   }
  ]
 },
 {
  "width": 151, "height": 224,
  "data": {"values": [{"c": "PD56-COC"}, {"c": "PD84-SENS"}]},
  "encoding": {"y": {"field": "c", "type": "nominal", "scale": {"type": "band", "domain": ["f1", "f2", "f3", "PD56-COC", "PD84-SENS", "f4", "f5", "f6"], "paddingInner": 0.577, "paddingOuter": 0.595, "align": 0.274}, "axis": null}},
  "layer": [
   {"mark": {"type": "rect", "stroke": "black", "strokeWidth": 3, "opacity": 1},
    "encoding": {
     "x": {"datum": -4.5, "type": "quantitative", "scale": {"domain": [0, 151], "nice": false, "zero": false}, "axis": null},
     "x2": {"datum": 27.5},
     "fill": {"condition": [
       {"test": "datum.c === 'PD56-COC'", "value": {"gradient": "linear", "x1": 0, "y1": 0, "x2": 1.202, "y2": 0.413, "stops": [{"offset":0,"color":"#fff"},{"offset":0.175,"color":"#fff"},{"offset":0.175,"color":"#000"},{"offset":0.25,"color":"#000"},{"offset":0.25,"color":"#fff"},{"offset":0.425,"color":"#fff"},{"offset":0.425,"color":"#000"},{"offset":0.5,"color":"#000"},{"offset":0.5,"color":"#fff"},{"offset":0.675,"color":"#fff"},{"offset":0.675,"color":"#000"},{"offset":0.75,"color":"#000"},{"offset":0.75,"color":"#fff"},{"offset":0.925,"color":"#fff"},{"offset":0.925,"color":"#000"},{"offset":1,"color":"#000"}]}}
      ],
      "value": {"gradient": "linear", "x1": 0, "y1": 1, "x2": 1.202, "y2": 0.587, "stops": [{"offset":0,"color":"#8c8c8c"},{"offset":0.175,"color":"#8c8c8c"},{"offset":0.175,"color":"#000"},{"offset":0.25,"color":"#000"},{"offset":0.25,"color":"#8c8c8c"},{"offset":0.425,"color":"#8c8c8c"},{"offset":0.425,"color":"#000"},{"offset":0.5,"color":"#000"},{"offset":0.5,"color":"#8c8c8c"},{"offset":0.675,"color":"#8c8c8c"},{"offset":0.675,"color":"#000"},{"offset":0.75,"color":"#000"},{"offset":0.75,"color":"#8c8c8c"},{"offset":0.925,"color":"#8c8c8c"},{"offset":0.925,"color":"#000"},{"offset":1,"color":"#000"}]}
     }
    }
   },
   {"mark": {"type": "text", "align": "left", "baseline": "middle", "fontSize": 18, "color": "black"},
    "encoding": {
     "x": {"datum": 32.5, "type": "quantitative"},
     "text": {"field": "c"}
    }
   }
  ]
 }
]}
]
}
